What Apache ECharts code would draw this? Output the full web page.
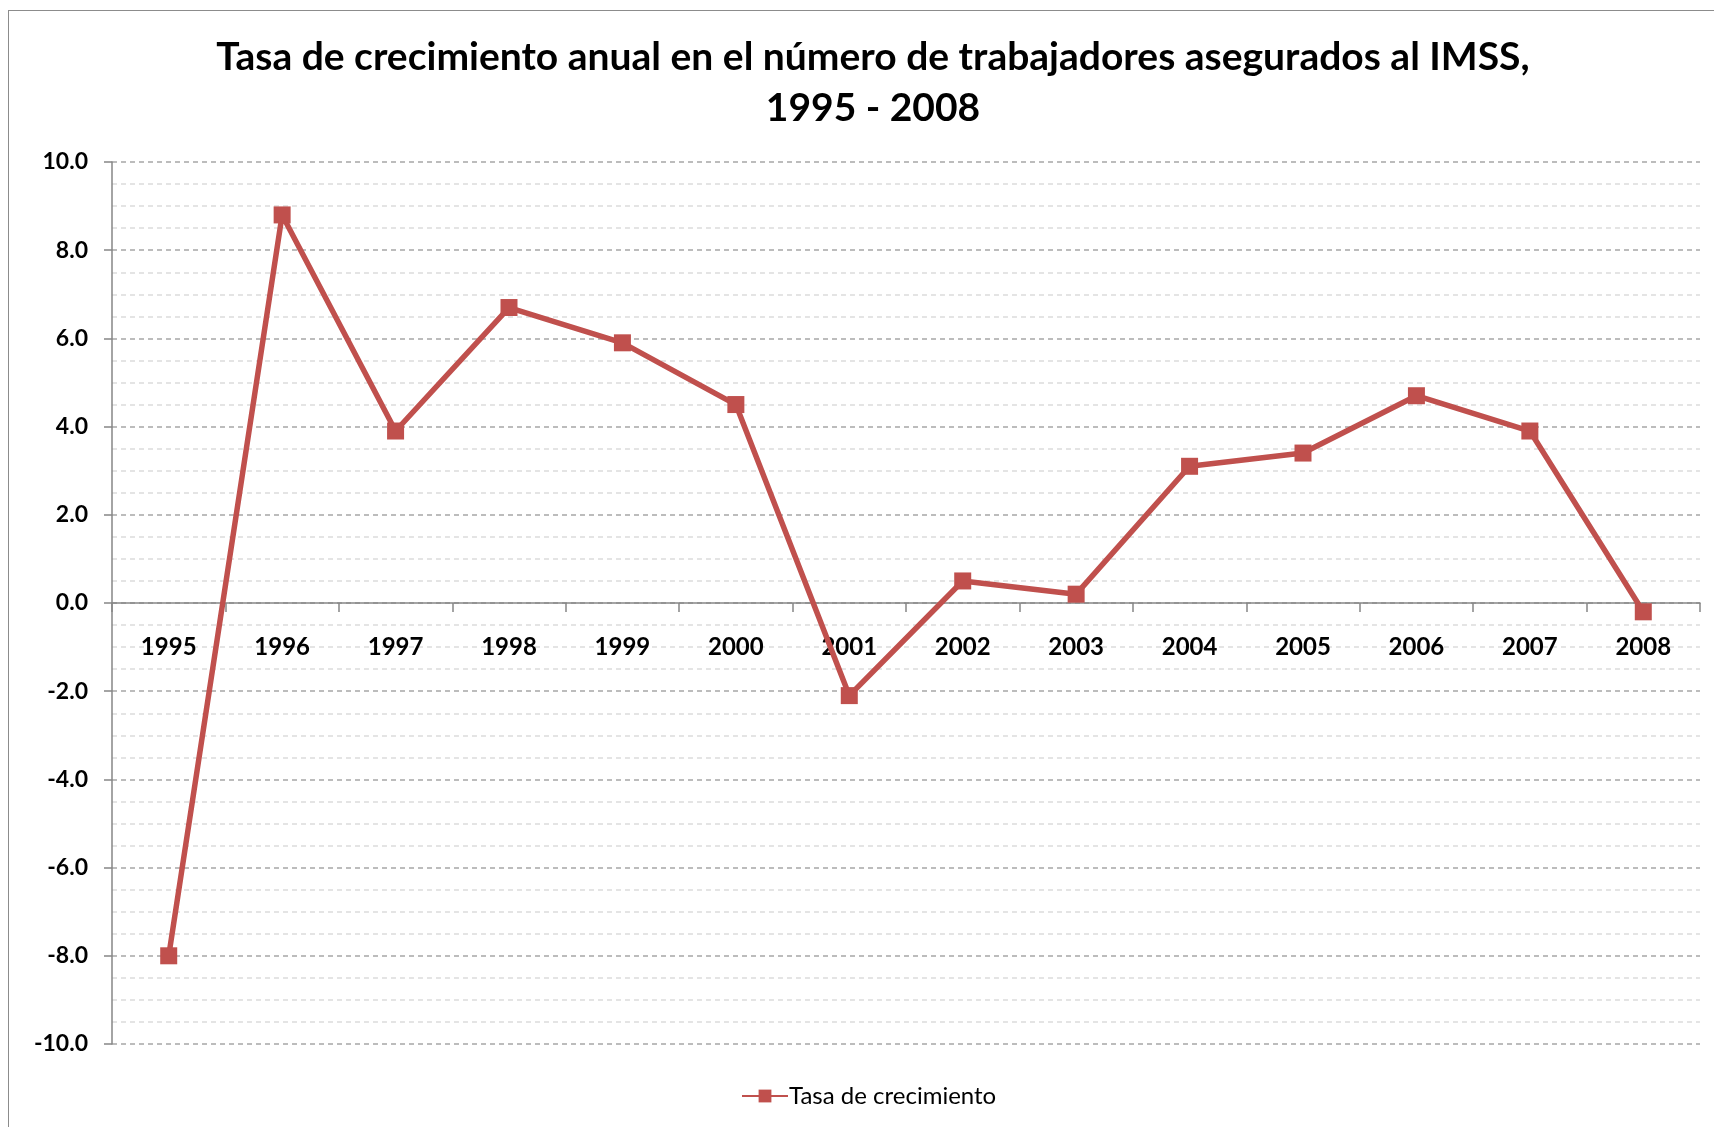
<!DOCTYPE html>
<html>
<head>
<meta charset="utf-8">
<script src="https://cdn.jsdelivr.net/npm/echarts@6/dist/echarts.min.js"></script>
<style>
  html, body { margin: 0; padding: 0; background: #fff; }
  #frame { position: absolute; left: 8px; top: 10px; width: 1720px; height: 1130px; border: 1px solid #8c8c8c; box-sizing: border-box; }
  #chart { position: absolute; left: 0; top: 0; width: 1714px; height: 1127px; }
</style>
</head>
<body>
<div id="frame"></div>
<div id="chart"></div>
<script>
var years = ['1995', '1996', '1997', '1998', '1999', '2000', '2001', '2002', '2003', '2004', '2005', '2006', '2007', '2008'];
var tasa = [-8.0, 8.8, 3.9, 6.7, 5.9, 4.5, -2.1, 0.5, 0.2, 3.1, 3.4, 4.7, 3.9, -0.2];
var serieName = 'Tasa de crecimiento';
var titulo = 'Tasa de crecimiento anual en el número de trabajadores asegurados al IMSS,\n1995 - 2008';

var font = 'Lato, "Open Sans", sans-serif';
var red = '#C0504D';

var chart = echarts.init(document.getElementById('chart'), null, {renderer: 'canvas'});

chart.setOption({
  backgroundColor: 'transparent',
  animation: false,
  title: {
    text: titulo,
    left: 868,
    textAlign: 'center',
    top: 27,
    textStyle: {fontFamily: font, fontWeight: 'bold', fontSize: 39, color: '#000', lineHeight: 51}
  },
  legend: {
    data: [serieName],
    left: 736,
    top: 1079,
    itemWidth: 46,
    itemHeight: 16,
    itemGap: 4,
    textStyle: {fontFamily: font, fontSize: 24, color: '#000', padding: [0, 0, 0, -4]}
  },
  grid: [
    {left: 112, top: 162, right: 14, bottom: 83, containLabel: false},
    // label strip whose bottom edge sits on the zero line
    {left: 112, top: 162, right: 14, bottom: 525, containLabel: false}
  ],
  xAxis: [{
    type: 'category',
    data: years,
    boundaryGap: true,
    axisLine: {onZero: true, lineStyle: {color: '#868686', width: 1.5}},
    axisTick: {show: true, length: 9, lineStyle: {color: '#868686', width: 1.5}},
    axisLabel: {show: false},
    splitLine: {show: false}
  }, {
    type: 'category',
    gridIndex: 1,
    data: years,
    boundaryGap: true,
    axisLine: {show: false},
    axisTick: {show: false},
    axisLabel: {margin: 33, fontFamily: font, fontWeight: 'bold', fontSize: 24, color: '#000'},
    splitLine: {show: false}
  }],
  yAxis: [{
    type: 'value',
    min: -10,
    max: 10,
    interval: 2,
    axisLine: {show: true, lineStyle: {color: '#868686', width: 1.5}},
    axisTick: {show: true, length: 8, lineStyle: {color: '#868686', width: 1.5}},
    axisLabel: {
      margin: 24,
      fontFamily: font, fontWeight: 'bold', fontSize: 23, color: '#000',
      formatter: function (v) { return v.toFixed(1); }
    },
    splitLine: {show: true, lineStyle: {color: '#a6a6a6', width: 1.5, type: [5, 4]}},
    minorTick: {show: false, splitNumber: 4},
    minorSplitLine: {show: true, lineStyle: {color: '#dcdcdc', width: 1.5, type: [5, 4]}}
  }, {
    type: 'value',
    gridIndex: 1,
    show: false,
    min: 0,
    max: 10
  }],
  series: [{
    name: serieName,
    type: 'line',
    data: tasa,
    symbol: 'rect',
    symbolSize: 17,
    lineStyle: {color: red, width: 5.5},
    itemStyle: {color: red}
  }]
});
</script>
</body>
</html>
